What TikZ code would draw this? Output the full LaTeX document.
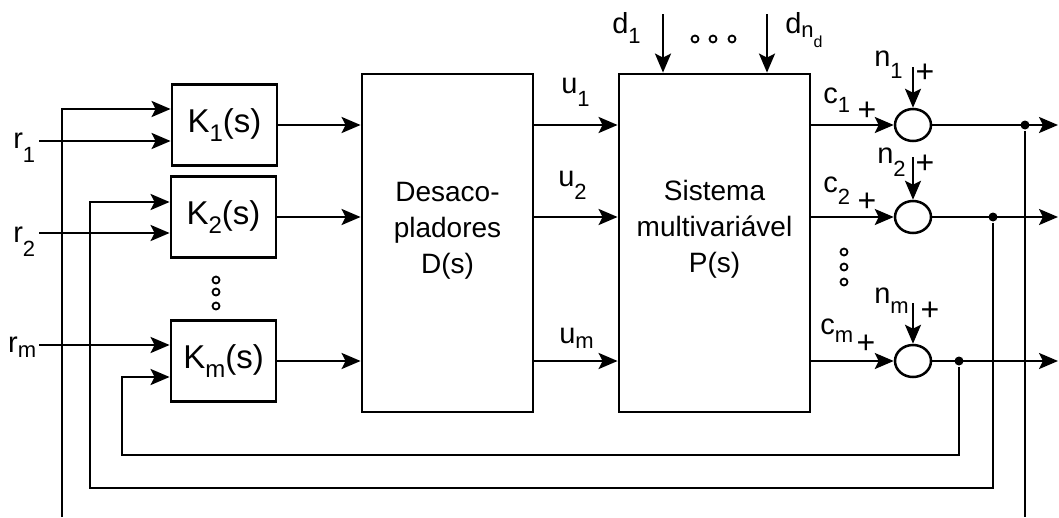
\documentclass[tikz,border=0pt]{standalone}
\usepackage{fontspec}
\setmainfont{Liberation Sans}
\usetikzlibrary{positioning,arrows.meta,shapes.geometric}
\newcommand{\lsub}[2][13pt]{\raisebox{-#1}{\fontsize{22}{22}\selectfont #2}}
\newcommand{\ksub}[1]{\raisebox{-9pt}{\fontsize{24}{24}\selectfont #1}}

\begin{document}
\begin{tikzpicture}[
    x=1pt, y=-1pt,
    line width=2.5pt,
    >={Stealth[length=19pt,width=16pt,inset=4pt]},
    kblock/.style={draw, line width=2.8pt, minimum width=105pt, minimum height=81pt, inner sep=0pt, font=\fontsize{33}{33}\selectfont},
    bigblock/.style={draw, line width=2.8pt, minimum height=338pt, inner sep=0pt},
    bigtext/.style={align=center, inner sep=0pt, font=\fontsize{28}{36}\selectfont},
    sumnode/.style={draw, ellipse, minimum width=36pt, minimum height=32pt, inner sep=0pt},
    lbl/.style={anchor=base west, inner sep=0pt, font=\fontsize{29}{29}\selectfont},
    sgn/.style={inner sep=0pt, font=\fontsize{32}{32}\selectfont},
    jdot/.style={circle, fill, inner sep=0pt, minimum size=9pt},
    sdot/.style={circle, draw, line width=1.8pt, inner sep=0pt, minimum size=7pt}
  ]
    \useasboundingbox (0,0) rectangle (1059,517);

    \node[kblock] (K1) at (224.5,125) {K\ksub{1}(s)};
    \node[kblock] (K2) at (223.5,217) {K\ksub{2}(s)};
    \node[kblock] (Km) at (223.5,361) {K\ksub{m}(s)};
    \node[bigblock, minimum width=171pt] (D) at (447.5,243) {};
    \node[bigtext] (Dtxt) at (447.5,231) {Desaco-\\pladores\\D(s)};
    \node[bigblock, minimum width=191pt] (P) at (714.5,243) {};
    \node[bigtext] (Ptxt) at (714.5,229) {Sistema\\multivariável\\P(s)};
    \node[sumnode] (S1) at (913,125) {};
    \node[sumnode] (S2) at (913,217) {};
    \node[sumnode] (Sm) at (913,361) {};

    \node[lbl] (r1) at (12,148) {r\lsub[14pt]{1}};
    \node[lbl] (r2) at (12,242) {r\lsub[14pt]{2}};
    \node[lbl] (rm) at (7,352) {r\lsub[5pt]{m}};
    \node[lbl] (u1) at (560,93) {u\lsub{1}};
    \node[lbl] (u2) at (557,186) {u\lsub{2}};
    \node[lbl] (um) at (558,343) {u\lsub[5pt]{m}};
    \node[lbl] (c1) at (822,103) {c\lsub[9pt]{1}};
    \node[lbl] (c2) at (822,192) {c\lsub[12pt]{2}};
    \node[lbl] (cm) at (819,334) {c\lsub[8pt]{m}};
    \node[lbl] (n1) at (873,66) {n\lsub[12pt]{1}};
    \node[lbl] (n2) at (876,163) {n\lsub[13pt]{2}};
    \node[lbl] (nm) at (873,303) {n\lsub[10pt]{m}};
    \node[lbl] (d1) at (611,33) {d\lsub[10pt]{1}};
    \node[lbl] (dn) at (784,33) {d\lsub[4pt]{n\raisebox{-10pt}{\fontsize{16}{16}\selectfont d}}};

    \node[sgn] (pc1) at (867,111) {+};
    \node[sgn] (pc2) at (867,202) {+};
    \node[sgn] (pcm) at (866,344) {+};
    \node[sgn] (pn1) at (925,73) {+};
    \node[sgn] (pn2) at (925,164) {+};
    \node[sgn] (pnm) at (930,311) {+};

    \node[sdot] (kd1) at (216,280) {};
    \node[sdot] (kd2) at (216,292) {};
    \node[sdot] (kd3) at (216,306) {};
    \node[sdot] (cd1) at (844,252) {};
    \node[sdot] (cd2) at (844,267) {};
    \node[sdot] (cd3) at (844,282) {};
    \node[sdot] (dd1) at (695,39) {};
    \node[sdot] (dd2) at (713,39) {};
    \node[sdot] (dd3) at (732,39) {};

    \node[jdot] (j1) at (1025,125) {};
    \node[jdot] (j2) at (993,217) {};
    \node[jdot] (jm) at (959,361) {};

    \coordinate (in1) at (39,141);
    \coordinate (in2) at (39,233);
    \coordinate (inm) at (39,345);
    \coordinate (dt1) at (663,14);
    \coordinate (dtn) at (767,14);
    \coordinate (nt1) at (913,67);
    \coordinate (nt2) at (913,157);
    \coordinate (ntm) at (913,303);
    \coordinate (y1) at (1058,125);
    \coordinate (y2) at (1058,217);
    \coordinate (ym) at (1058,361);
    \coordinate (fb1r) at (1025,517);
    \coordinate (fb1l) at (62,517);
    \coordinate (fb2) at (90,488);
    \coordinate (fbm) at (122,455);

    \draw[->] (in1) -- (in1 -| K1.west);
    \draw[->] (in2) -- (in2 -| K2.west);
    \draw[->] (inm) -- (inm -| Km.west);
    \draw[->] (fb1l) |- ([yshift=16pt]K1.west);
    \draw[->] (j2) |- (fb2) |- ([yshift=15pt]K2.west);
    \draw[->] (jm) |- (fbm) |- ([yshift=-16pt]Km.west);
    \draw (j1) -- (fb1r);

    \draw[->] (K1.east) -- (K1.east -| D.west);
    \draw[->] (K2.east) -- (K2.east -| D.west);
    \draw[->] (Km.east) -- (Km.east -| D.west);
    \draw[->] (D.east |- S1) -- (P.west |- S1);
    \draw[->] (D.east |- S2) -- (P.west |- S2);
    \draw[->] (D.east |- Sm) -- (P.west |- Sm);
    \draw[->] (dt1) -- (dt1 |- P.north);
    \draw[->] (dtn) -- (dtn |- P.north);

    \draw[->] (P.east |- S1) -- (S1.west);
    \draw[->] (P.east |- S2) -- (S2.west);
    \draw[->] (P.east |- Sm) -- (Sm.west);
    \draw[->] (nt1) -- (S1.north);
    \draw[->] (nt2) -- (S2.north);
    \draw[->] (ntm) -- (Sm.north);
    \draw[->] (S1.east) -- (y1);
    \draw[->] (S2.east) -- (y2);
    \draw[->] (Sm.east) -- (ym);
  \end{tikzpicture}
\end{document}
